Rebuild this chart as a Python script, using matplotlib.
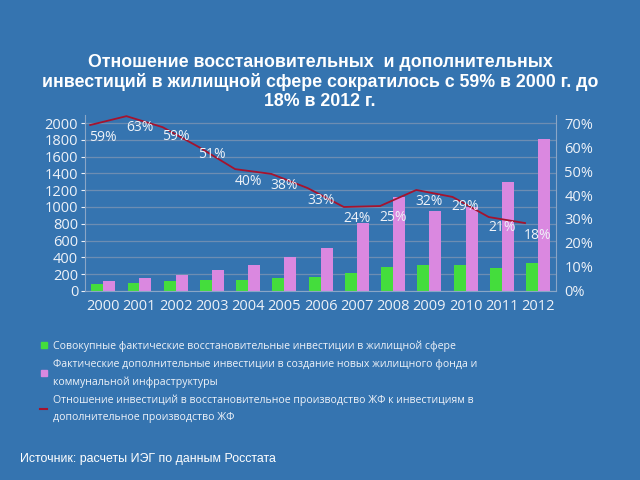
import matplotlib.pyplot as plt
import numpy as np
from matplotlib.lines import Line2D

plt.rcParams['font.family'] = ['Open Sans', 'DejaVu Sans']

# Данные
years = ['2000', '2001', '2002', '2003', '2004', '2005', '2006',
         '2007', '2008', '2009', '2010', '2011', '2012']
vosst = [80, 99, 119, 131, 131, 155, 170, 210, 286, 306, 306, 270, 333]
dop = [123, 155, 194, 250, 313, 401, 512, 813, 1123, 949, 996, 1301, 1810]
# линия отношения (в %), нарисована со сдвигом влево
ratio_line = [69.2, 72.9, 68.3, 60.0, 50.8, 48.8, 42.9, 35.0, 35.4, 42.1, 39.2, 30.8, 28.3]
ratio_labels = ['59%', '63%', '59%', '51%', '40%', '38%', '33%',
                '24%', '25%', '32%', '29%', '21%', '18%']
label_y = [64.2, 68.3, 64.6, 56.7, 45.8, 43.8, 37.9, 30.4, 30.8, 37.5, 35.0, 26.3, 23.3]

bg = '#3574b0'
txt = '#eef2f8'
green = '#44dd3c'
pink = '#da88e0'
red = '#a5132e'

fig = plt.figure(figsize=(6.4, 4.8), dpi=100, facecolor=bg)
ax = fig.add_axes([0.133, 0.394, 0.736, 0.367])
ax.set_facecolor(bg)

x = np.arange(len(years))
w = 0.33
ax.bar(x - w / 2, vosst, w, color=green, zorder=2)
ax.bar(x + w / 2, dop, w, color=pink, zorder=2)
ax.set_xlim(-0.5, 12.5)
ax.set_ylim(0, 2100)
ax.set_yticks(range(0, 2001, 200))
ax.set_xticks(x)
ax.set_xticklabels(years)
ax.tick_params(colors=txt, labelsize=10.5, length=3, pad=2)
ax.tick_params(axis='x', length=0, pad=6)
ax.grid(axis='y', color='#6d8db2', linewidth=0.9, zorder=0)
for s in ['top', 'right']:
    ax.spines[s].set_visible(False)
ax.spines['left'].set_color('#8aa6c6')
ax.spines['bottom'].set_color('#8aa6c6')

ax2 = ax.twinx()
ax2.set_ylim(0, 73.5)
ax2.set_yticks(range(0, 71, 10))
ax2.set_yticklabels([f'{v}%' for v in range(0, 71, 10)])
ax2.tick_params(colors=txt, labelsize=10.5, length=0, pad=6)
for s in ['top', 'left', 'bottom']:
    ax2.spines[s].set_visible(False)
ax2.spines['right'].set_color('#8aa6c6')
ax2.plot(x - 0.36, ratio_line, color=red, linewidth=1.3, zorder=3)
for xi, yi, lab in zip(x, label_y, ratio_labels):
    ax2.text(xi, yi, lab, color=txt, fontsize=10, ha='center', va='center', zorder=4)

fig.text(0.5, 0.829,
         'Отношение восстановительных  и дополнительных\n'
         'инвестиций в жилищной сфере сократилось с 59% в 2000 г. до\n'
         '18% в 2012 г.',
         ha='center', va='center', color='white', fontsize=12.8,
         fontweight='bold', family=['Liberation Sans', 'DejaVu Sans'],
         linespacing=1.15)

handles = [
    Line2D([], [], marker='s', color=green, linestyle='none', markersize=4),
    Line2D([], [], marker='s', color=pink, linestyle='none', markersize=4),
    Line2D([], [], color=red, linewidth=1.5),
]
labels = [
    'Совокупные фактические восстановительные инвестиции в жилищной сфере',
    'Фактические дополнительные инвестиции в создание новых жилищного фонда и\nкоммунальной инфраструктуры',
    'Отношение инвестиций в восстановительное производство ЖФ к инвестициям в\nдополнительное производство ЖФ',
]
leg = fig.legend(handles, labels, loc='upper left', bbox_to_anchor=(0.055, 0.302),
                 frameon=False, fontsize=7.6, labelcolor=txt, handlelength=0.6,
                 handletextpad=0.6, labelspacing=0.65, borderpad=0)
for t in leg.get_texts():
    t.set_linespacing(1.75)

fig.text(0.032, 0.044, 'Источник: расчеты ИЭГ по данным Росстата',
         color='white', fontsize=8.9, ha='left', va='center',
         family=['Liberation Sans', 'DejaVu Sans'])

plt.savefig('out.png', dpi=100, facecolor=bg)
